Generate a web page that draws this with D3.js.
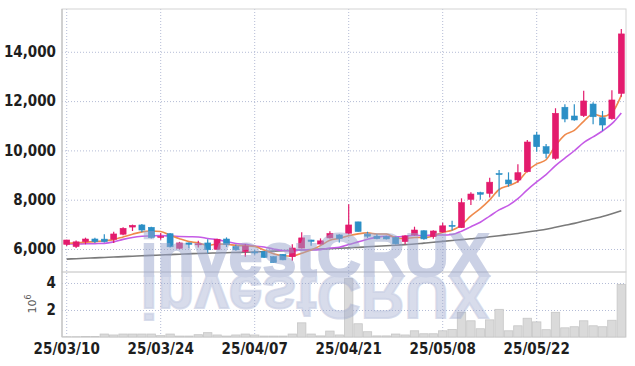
<!DOCTYPE html>
<html>
<head>
<meta charset="utf-8">
<script src="https://cdn.jsdelivr.net/npm/d3@7"></script>
<style>
body { margin: 0; background: #fff; }
svg { display: block; }
</style>
</head>
<body>
<div class="container"></div>
<script>
// trading days, yy/mm/dd
var dates = ["25/03/10","25/03/11","25/03/12","25/03/13","25/03/14","25/03/17","25/03/18","25/03/19","25/03/20","25/03/21",
  "25/03/24","25/03/25","25/03/26","25/03/27","25/03/28","25/03/31","25/04/01","25/04/02","25/04/03","25/04/04",
  "25/04/07","25/04/08","25/04/09","25/04/10","25/04/11","25/04/14","25/04/15","25/04/16","25/04/17","25/04/18",
  "25/04/21","25/04/22","25/04/23","25/04/24","25/04/25","25/04/28","25/04/29","25/04/30","25/05/02","25/05/07",
  "25/05/08","25/05/09","25/05/12","25/05/13","25/05/14","25/05/15","25/05/16","25/05/19","25/05/20","25/05/21",
  "25/05/22","25/05/23","25/05/26","25/05/27","25/05/28","25/05/29","25/05/30","25/06/02","25/06/04","25/06/05"];

var opens = [6190,6100,6300,6405,6400,6395,6600,6890,6975,6880,
  6480,6620,6030,6245,6190,6245,5990,6405,6095,5900,
  5880,5890,5690,5785,5690,6040,6365,6200,6450,6570,
  6640,7100,6600,6520,6500,6460,6300,6570,6740,6500,
  6690,6960,6865,8015,8285,8260,9060,8800,8800,9135,
  10625,10150,9680,11750,11395,11410,11880,11325,11285,12315];
var highs = [6380,6340,6460,6460,6600,6700,6880,6990,7010,6900,
  6650,6650,6290,6260,6330,6400,6420,6470,6180,6200,
  5960,5920,5700,5800,6190,6675,6380,6430,6720,6600,
  7820,7110,6700,6600,6540,6500,6560,6905,6760,6760,
  7060,7150,8055,8300,8320,8890,9205,9110,9435,10420,
  10760,10260,11710,11870,11870,12420,11950,11600,12440,14925];
var lows = [6120,6040,6190,6240,6260,6240,6560,6730,6680,6430,
  6380,6060,5990,6030,6060,5830,5960,6080,5930,5690,
  5770,5640,5440,5540,5525,6020,6135,6180,6430,6260,
  6600,6700,6450,6400,6390,6180,6190,6540,6380,6420,
  6660,6750,6850,7785,8000,8090,8120,8530,8690,9100,
  9950,9680,9620,11140,11200,11350,11060,10790,11240,12180];
var closes = [6365,6290,6405,6300,6300,6610,6840,6960,6770,6460,
  6510,6090,6245,6190,6210,5970,6395,6190,5970,6120,
  5850,5660,5450,5560,6040,6450,6310,6330,6630,6430,
  6975,6710,6520,6420,6410,6210,6530,6770,6410,6730,
  6940,6930,7880,8230,8220,8710,9030,8640,9095,10340,
  10150,9880,11505,11275,11235,12005,11365,11030,12045,14725];

var ma5 = [6230,6250,6280,6300,6332,6381,6491,6602,6696,6728,
  6708,6558,6415,6299,6249,6141,6202,6191,6147,6129,
  6105,5958,5810,5728,5712,5832,5962,6138,6352,6430,
  6535,6615,6653,6611,6607,6454,6418,6468,6466,6530,
  6676,6756,6978,7342,7640,7994,8414,8566,8739,9163,
  9451,9621,10194,10630,10809,11180,11477,11382,11536,12234];
var ma10 = [6200,6205,6210,6220,6230,6290,6390,6470,6515,6530,
  6545,6525,6509,6498,6489,6425,6380,6303,6223,6189,
  6123,6080,6001,5938,5921,5969,5960,5974,6040,6071,
  6184,6289,6396,6482,6519,6495,6517,6561,6539,6569,
  6565,6587,6723,6904,7085,7335,7585,7772,8041,8402,
  8723,9018,9380,9685,9986,10316,10549,10788,11083,11522];
var ma60 = [5590,5607,5624,5640,5657,5674,5690,5707,5724,5740,
  5756,5772,5788,5804,5820,5830,5840,5850,5860,5870,
  5880,5896,5913,5929,5946,5962,5979,5995,6012,6028,
  6045,6067,6089,6111,6133,6155,6177,6200,6237,6273,
  6310,6345,6380,6415,6450,6495,6540,6585,6630,6687,
  6743,6800,6880,6960,7040,7133,7227,7320,7430,7555];

// volume in millions of shares
var volumes = [0.02,0.02,0.03,0.03,0.22,0.15,0.22,0.22,0.22,0.22,
  0.1,0.22,0.07,0.07,0.17,0.32,0.15,0.07,0.15,0.22,
  0.15,0.07,0.07,0.07,0.22,1.05,0.22,0.08,0.44,0.15,
  4.32,0.98,0.39,0.08,0.08,0.22,0.15,0.46,0.24,0.24,
  0.46,0.56,1.83,1.2,0.61,1.27,2.05,0.46,0.83,1.39,
  1.12,0.54,1.83,0.68,0.76,1.2,0.83,0.76,1.24,3.9];

var priceTicks = [6000, 8000, 10000, 12000, 14000];
var volumeTicks = [2, 4];
var dateTicks = [0, 10, 20, 30, 40, 50];

var width = 635, height = 366;
var pLeft = 62, pRight = 626, pTop = 9, pSplit = 272, pBottom = 337;
var upColor = "#e31b6d", downColor = "#2b8fc6";
var gridColor = "#b4bcd6";
var font = "'Liberation Sans Narrow', 'DejaVu Sans Condensed', sans-serif";

var svg = d3.select(".container").append("svg")
  .attr("width", width)
  .attr("height", height);

var x = d3.scaleBand().domain(d3.range(dates.length)).range([pLeft, pRight]).padding(0);
var bw = x.bandwidth();
function cx(i) { return x(i) + bw / 2; }

var y = d3.scaleLinear().domain([5067, 15736]).range([pSplit, pTop]);
var yv = d3.scaleLinear().domain([0, 4.815]).range([pBottom, pSplit]);

// grids + tick labels
var gx = svg.append("g")
  .attr("transform", "translate(0," + pBottom + ")")
  .call(d3.axisBottom(x).tickValues(dateTicks).tickFormat(function (i) { return dates[i]; })
    .tickSize(-(pBottom - pTop)).tickPadding(6));

var gy = svg.append("g")
  .attr("transform", "translate(" + pLeft + ",0)")
  .call(d3.axisLeft(y).tickValues(priceTicks).tickFormat(d3.format(","))
    .tickSize(-(pRight - pLeft)).tickPadding(6));

var gv = svg.append("g")
  .attr("transform", "translate(" + pLeft + ",0)")
  .call(d3.axisLeft(yv).tickValues(volumeTicks).tickFormat(d3.format("d"))
    .tickSize(-(pRight - pLeft)).tickPadding(6));

[gx, gy, gv].forEach(function (g) {
  g.select(".domain").remove();
  g.selectAll(".tick line")
    .attr("stroke", gridColor)
    .attr("stroke-dasharray", "1,2");
  g.selectAll(".tick text")
    .attr("fill", "#1e1e1e")
    .style("font-family", font)
    .style("font-weight", "bold")
    .style("font-size", "15px");
});

// panel frames
svg.append("rect")
  .attr("x", pLeft).attr("y", pTop)
  .attr("width", pRight - pLeft).attr("height", pSplit - pTop)
  .attr("fill", "none").attr("stroke", "#d4d4d4");
svg.append("rect")
  .attr("x", pLeft).attr("y", pSplit)
  .attr("width", pRight - pLeft).attr("height", pBottom - pSplit)
  .attr("fill", "none").attr("stroke", "#d4d4d4");
svg.append("line")
  .attr("x1", pLeft).attr("x2", pLeft).attr("y1", pTop).attr("y2", pBottom)
  .attr("stroke", "#b8b8b8");

// volume bars
svg.append("g").selectAll("rect")
  .data(volumes)
  .enter().append("rect")
  .attr("x", function (d, i) { return x(i) + 0.5; })
  .attr("width", bw - 1)
  .attr("y", function (d) { return yv(d); })
  .attr("height", function (d) { return pBottom - yv(d); })
  .attr("fill", "#dadada")
  .attr("stroke", "#c6c6c6")
  .attr("stroke-width", 0.8);

// 10^6 label
var vl = svg.append("text")
  .attr("transform", "translate(36,304) rotate(-90)")
  .attr("text-anchor", "middle")
  .attr("fill", "#555")
  .style("font-family", "'DejaVu Sans', sans-serif")
  .style("font-size", "11px");
vl.append("tspan").text("10");
vl.append("tspan").attr("dy", "-5").style("font-size", "8px").text("6");

// moving averages
var line = d3.line()
  .x(function (d, i) { return cx(i); })
  .y(function (d) { return y(d); })
  .curve(d3.curveMonotoneX);

[[ma60, "#7a7a7a"], [ma10, "#c55be6"], [ma5, "#ef8a4c"]].forEach(function (m) {
  svg.append("path")
    .attr("d", line(m[0]))
    .attr("fill", "none")
    .attr("stroke", m[1])
    .attr("stroke-width", 1.6);
});

// candles
var candles = svg.append("g").selectAll("g")
  .data(d3.range(dates.length))
  .enter().append("g");

function col(i) { return closes[i] >= opens[i] ? upColor : downColor; }

candles.append("line")
  .attr("x1", cx).attr("x2", cx)
  .attr("y1", function (i) { return y(highs[i]); })
  .attr("y2", function (i) { return y(lows[i]); })
  .attr("stroke", col)
  .attr("stroke-width", 1.2);

candles.append("rect")
  .attr("x", function (i) { return cx(i) - 3; })
  .attr("width", 6)
  .attr("y", function (i) { return y(Math.max(opens[i], closes[i])); })
  .attr("height", function (i) { return Math.max(1, Math.abs(y(opens[i]) - y(closes[i]))); })
  .attr("fill", col)
  .attr("stroke", col)
  .attr("stroke-width", 0.6);

// watermark with reflection
var defs = svg.append("defs");
var grad = defs.append("linearGradient")
  .attr("id", "fade").attr("gradientUnits", "userSpaceOnUse")
  .attr("x1", 0).attr("x2", 0).attr("y1", 276).attr("y2", 322);
grad.append("stop").attr("offset", "0").attr("stop-color", "#98a4cc").attr("stop-opacity", 0.75);
grad.append("stop").attr("offset", "1").attr("stop-color", "#98a4cc").attr("stop-opacity", 0.2);

var wm = svg.append("g").attr("opacity", 0.5);
wm.append("text")
  .attr("x", 315).attr("y", 276)
  .attr("text-anchor", "middle")
  .attr("fill", "#98a4cc")
  .attr("stroke", "#98a4cc").attr("stroke-width", 2)
  .style("font-family", "'Liberation Sans Narrow', sans-serif")
  .style("font-weight", "bold")
  .style("font-size", "61px")
  .text("investCRUX");

wm.append("text")
  .attr("x", 315).attr("y", 276)
  .attr("text-anchor", "middle")
  .attr("transform", "translate(0,552) scale(1,-1)")
  .attr("fill", "url(#fade)")
  .attr("stroke", "url(#fade)").attr("stroke-width", 2)
  .style("font-family", "'Liberation Sans Narrow', sans-serif")
  .style("font-weight", "bold")
  .style("font-size", "61px")
  .text("investCRUX");
</script>
</body>
</html>
